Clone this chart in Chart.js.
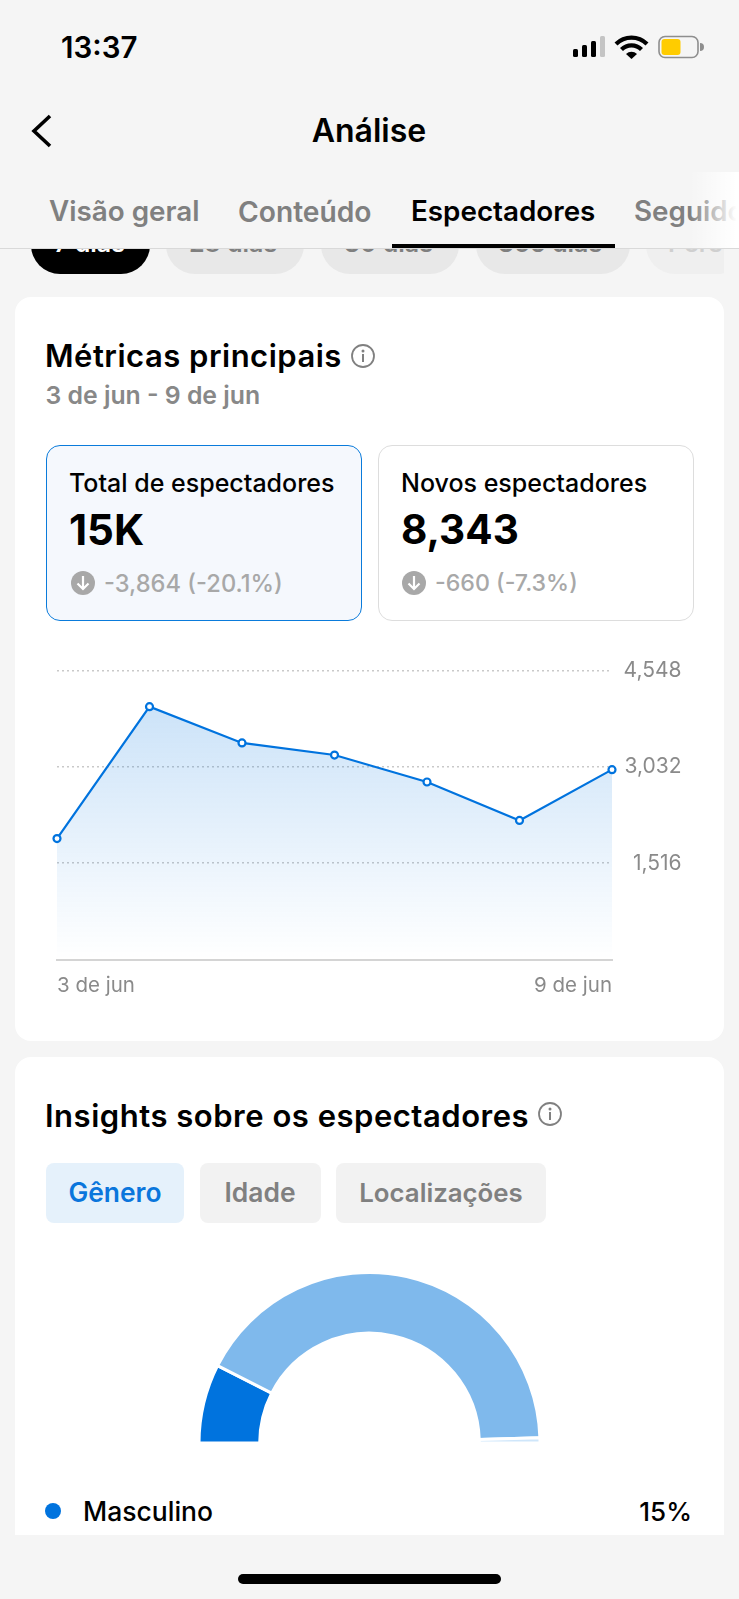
<!DOCTYPE html>
<html lang="pt">
<head>
<meta charset="utf-8">
<title>Análise</title>
<script src="https://cdn.jsdelivr.net/npm/chart.js@4"></script>
<style>
    html, body { margin: 0; padding: 0; background: #f5f5f5; }
    body { position: relative; width: 739px; height: 1599px; overflow: hidden; font-family: Inter, sans-serif; }
    .t { position: absolute; white-space: nowrap; line-height: 1; }
    .box { position: absolute; box-sizing: border-box; }
    .pill { position: absolute; top: 216px; height: 58px; border-radius: 29px; background: #e8e8e8; }
    .info { position: absolute; }
    canvas { display: block; }
</style>
</head>
<body>
    <!-- range pills sit behind the header -->
    <div class="pill" style="left:31px;width:119px;background:#000"></div>
    <div class="pill" style="left:166px;width:138px"></div>
    <div class="pill" style="left:321px;width:138px"></div>
    <div class="pill" style="left:476px;width:154px"></div>
    <div class="pill" style="left:646px;width:100px;background:#efefef;clip-path:inset(0 22px 0 0)"></div>
    <div class="t" style="left:54px;top:calc(253px - .864em);font-size:25px;font-weight:600;color:#fff">7 dias</div>
    <div class="t" style="left:189px;top:calc(253px - .864em);font-size:25px;font-weight:600;color:#7f7f7f">28 dias</div>
    <div class="t" style="left:344px;top:calc(253px - .864em);font-size:25px;font-weight:600;color:#7f7f7f">30 dias</div>
    <div class="t" style="left:498px;top:calc(253px - .864em);font-size:25px;font-weight:600;color:#7f7f7f">365 dias</div>
    <div class="t" style="left:668px;top:calc(253px - .864em);font-size:25px;font-weight:600;color:#cfcfcf">Pers</div>

    <!-- header -->
    <div class="box" style="left:0;top:0;width:739px;height:248px;background:#f5f5f5;border-bottom:1px solid #d9d9d9;box-sizing:content-box"></div>
    <div class="t" style="left:61px;top:calc(58px - .864em);font-size:29.5px;font-weight:600;color:#000">13:37</div>
    <svg class="info" style="left:570px;top:30px" width="135" height="32" viewBox="0 0 135 32">
        <rect x="3" y="19" width="5" height="8" rx="1.5" fill="#000"/>
        <rect x="12" y="15" width="5" height="12" rx="1.5" fill="#000"/>
        <rect x="21" y="11" width="5" height="16" rx="1.5" fill="#000"/>
        <rect x="30" y="6" width="5" height="21" rx="1.5" fill="#c4c4c4"/>
        <path d="M46 14 a22 22 0 0 1 31 0" fill="none" stroke="#000" stroke-width="4.2"/>
        <path d="M51.5 19.5 a14 14 0 0 1 20 0" fill="none" stroke="#000" stroke-width="4.2"/>
        <path d="M56 24 L61.5 29 L67 24 a8 8 0 0 0 -11 0 Z" fill="#000"/>
        <rect x="89" y="6.5" width="39" height="21" rx="6" fill="none" stroke="#8e8e8e" stroke-width="1.6"/>
        <rect x="91.5" y="9" width="19" height="16" rx="3" fill="#ffcc00"/>
        <path d="M130 13 a4 4 0 0 1 0 8 Z" fill="#8e8e8e"/>
    </svg>
    <svg class="info" style="left:28px;top:112px" width="28" height="38" viewBox="0 0 28 38">
        <path d="M22 4 L6 19 L22 34" fill="none" stroke="#000" stroke-width="3.6"/>
    </svg>
    <div class="t" style="left:369px;top:calc(143px - .864em);transform:translateX(-50%);font-size:32px;font-weight:600;color:#000">Análise</div>
    <div class="t" style="left:49px;top:calc(222.5px - .864em);font-size:27.8px;font-weight:600;color:#808080">Visão geral</div>
    <div class="t" style="left:238px;top:calc(222.5px - .864em);font-size:28.2px;font-weight:600;color:#808080">Conteúdo</div>
    <div class="t" style="left:411px;top:calc(222.5px - .864em);font-size:27.8px;font-weight:600;color:#000">Espectadores</div>
    <div class="t" style="left:634px;top:calc(222.5px - .864em);font-size:27.8px;font-weight:600;color:#808080">Seguidores</div>
    <div class="box" style="left:392px;top:244px;width:223px;height:4px;background:#000"></div>
    <div class="box" style="left:690px;top:172px;width:49px;height:76px;background:linear-gradient(90deg,rgba(255,255,255,0),#fff 95%)"></div>

    <!-- card 1 -->
    <div class="box" style="left:15px;top:297px;width:709px;height:744px;background:#fff;border-radius:16px"></div>
    <div class="t" style="left:45px;top:calc(366.5px - .864em);font-size:31px;font-weight:600;letter-spacing:.5px;color:#000">Métricas principais</div>
    <svg class="info" style="left:350px;top:343px" width="26" height="26" viewBox="0 0 26 26">
        <circle cx="13" cy="13" r="11" fill="none" stroke="#808080" stroke-width="1.8"/>
        <circle cx="13" cy="8" r="1.5" fill="#808080"/>
        <rect x="12" y="11" width="2" height="8" fill="#808080"/>
    </svg>
    <div class="t" style="left:45.5px;top:calc(404px - .864em);font-size:24.8px;font-weight:600;color:#888">3 de jun - 9 de jun</div>

    <div class="box" style="left:46px;top:445px;width:316px;height:176px;background:#f5f8fd;border:1.5px solid #0a7bdb;border-radius:14px"></div>
    <div class="t" style="left:69px;top:calc(493px - .864em);font-size:25px;font-weight:500;color:#000">Total de espectadores</div>
    <div class="t" style="left:69px;top:calc(545px - .864em);font-size:42px;font-weight:700;color:#000">15K</div>
    <svg class="info" style="left:71px;top:571px" width="24" height="24" viewBox="0 0 24 24">
        <circle cx="12" cy="12" r="12" fill="#a8a8a8"/>
        <path d="M12 5 V18 M6.5 12.5 L12 18 L17.5 12.5" fill="none" stroke="#fff" stroke-width="2.2"/>
    </svg>
    <div class="t" style="left:104px;top:calc(592px - .864em);font-size:23.7px;font-weight:500;color:#a8a8a8">-3,864 (-20.1%)</div>

    <div class="box" style="left:377.5px;top:445px;width:316px;height:176px;background:#fff;border:1.5px solid #dddddd;border-radius:14px"></div>
    <div class="t" style="left:401px;top:calc(493px - .864em);font-size:25px;font-weight:500;color:#000">Novos espectadores</div>
    <div class="t" style="left:401px;top:calc(545px - .864em);font-size:40.5px;font-weight:700;color:#000">8,343</div>
    <svg class="info" style="left:402px;top:571px" width="24" height="24" viewBox="0 0 24 24">
        <circle cx="12" cy="12" r="12" fill="#a8a8a8"/>
        <path d="M12 5 V18 M6.5 12.5 L12 18 L17.5 12.5" fill="none" stroke="#fff" stroke-width="2.2"/>
    </svg>
    <div class="t" style="left:435px;top:calc(592px - .864em);font-size:23.2px;font-weight:500;color:#a8a8a8">-660 (-7.3%)</div>

    <div class="box" style="left:15px;top:640px;width:709px;height:380px"><canvas id="lineChart"></canvas></div>

    <!-- card 2 is cut off by the bottom bar -->
    <div class="box" style="left:15px;top:1057px;width:709px;height:478px;background:#fff;border-radius:16px 16px 0 0"></div>
    <div class="t" style="left:45px;top:calc(1127px - .864em);font-size:31px;font-weight:600;letter-spacing:.52px;color:#000">Insights sobre os espectadores</div>
    <svg class="info" style="left:537px;top:1101px" width="26" height="26" viewBox="0 0 26 26">
        <circle cx="13" cy="13" r="11" fill="none" stroke="#808080" stroke-width="1.8"/>
        <circle cx="13" cy="8" r="1.5" fill="#808080"/>
        <rect x="12" y="11" width="2" height="8" fill="#808080"/>
    </svg>
    <div class="box" style="left:46px;top:1163px;width:138px;height:60px;background:#e5f1fb;border-radius:8px"></div>
    <div class="box" style="left:200px;top:1163px;width:121px;height:60px;background:#f2f2f2;border-radius:8px"></div>
    <div class="box" style="left:336px;top:1163px;width:210px;height:60px;background:#f2f2f2;border-radius:8px"></div>
    <div class="t" style="left:115px;top:calc(1202px - .864em);transform:translateX(-50%);font-size:26.4px;font-weight:600;color:#0a76dc">Gênero</div>
    <div class="t" style="left:260px;top:calc(1202px - .864em);transform:translateX(-50%);font-size:26.4px;font-weight:600;color:#808080">Idade</div>
    <div class="t" style="left:441px;top:calc(1202px - .864em);transform:translateX(-50%);font-size:25.8px;font-weight:600;color:#808080">Localizações</div>

    <div class="box" style="left:195.5px;top:1270.5px;width:347px;height:173.5px"><canvas id="genderChart"></canvas></div>

    <div class="box" id="legendDot" style="left:45px;top:1503px;width:16px;height:16px;border-radius:50%"></div>
    <div class="t" id="legendName" style="left:83px;top:calc(1521px - .864em);font-size:26.5px;font-weight:500;color:#000"></div>
    <div class="t" id="legendShare" style="right:47px;top:calc(1521px - .864em);font-size:26px;font-weight:500;color:#000"></div>

    <div class="box" style="left:238px;top:1574px;width:263px;height:10px;border-radius:5px;background:#000"></div>

<script>
    const days = ['3 de jun', '4 de jun', '5 de jun', '6 de jun', '7 de jun', '8 de jun', '9 de jun'];
    const viewers = [1905, 3982, 3410, 3220, 2795, 2190, 2990];
    const yTicks = [0, 1516, 3032, 4548];

    const genders = ['Masculino', 'Feminino', 'Outros'];
    const genderShare = [15, 84, 1];
    const genderColors = ['#0073de', '#7fb9ec', '#cfe6fa'];

    const blue = '#0073de';
    const grey = '#8a8a8a';

    new Chart(document.getElementById('lineChart'), {
        type: 'line',
        data: {
            labels: days,
            datasets: [{
                data: viewers,
                borderColor: blue,
                borderWidth: 2.2,
                tension: 0,
                clip: false,
                fill: 'origin',
                pointRadius: 3.5,
                pointBorderWidth: 2.2,
                pointBorderColor: blue,
                pointBackgroundColor: '#fff',
                backgroundColor: function(context) {
                    const area = context.chart.chartArea;
                    if (!area) return 'rgba(0,115,222,0.2)';
                    const g = context.chart.ctx.createLinearGradient(0, area.top + 35, 0, area.bottom);
                    g.addColorStop(0, 'rgba(0,115,222,0.2)');
                    g.addColorStop(1, 'rgba(0,115,222,0)');
                    return g;
                }
            }]
        },
        options: {
            responsive: true,
            maintainAspectRatio: false,
            animation: false,
            layout: { padding: { left: 42, right: 42.5, top: 30.7, bottom: 0 } },
            plugins: { legend: { display: false }, tooltip: { enabled: false } },
            scales: {
                x: {
                    grid: { display: false },
                    border: { color: '#d4d4d4', width: 2 },
                    afterFit: function(scale) { scale.height = 60.5; },
                    ticks: {
                        align: 'inner',
                        autoSkip: false,
                        maxRotation: 0,
                        padding: 6,
                        color: grey,
                        font: { family: 'Inter', size: 20.5 },
                        callback: function(value, index) {
                            return index === 0 || index === days.length - 1 ? days[index] : '';
                        }
                    }
                },
                y: {
                    position: 'right',
                    min: yTicks[0],
                    max: yTicks[yTicks.length - 1],
                    border: { display: false, dash: [2, 3] },
                    grid: {
                        drawTicks: false,
                        lineWidth: 1.5,
                        color: function(context) {
                            return context.tick.value === 0 ? 'rgba(0,0,0,0)' : '#c9c9c9';
                        }
                    },
                    afterBuildTicks: function(scale) {
                        scale.ticks = yTicks.map(function(v) { return { value: v }; });
                    },
                    afterFit: function(scale) { scale.width = 69.5; },
                    ticks: {
                        crossAlign: 'far',
                        color: grey,
                        font: { family: 'Inter', size: 21 },
                        callback: function(value) {
                            return value === 0 ? '' : value.toLocaleString('en-US');
                        }
                    }
                }
            }
        }
    });

    new Chart(document.getElementById('genderChart'), {
        type: 'doughnut',
        data: {
            labels: genders,
            datasets: [{
                data: genderShare,
                backgroundColor: genderColors,
                borderColor: '#fff',
                borderWidth: 3
            }]
        },
        options: {
            responsive: true,
            maintainAspectRatio: false,
            animation: false,
            rotation: -90,
            circumference: 180,
            cutout: '64.4%',
            plugins: { legend: { display: false }, tooltip: { enabled: false } }
        }
    });

    document.getElementById('legendDot').style.background = genderColors[0];
    document.getElementById('legendName').textContent = genders[0];
    document.getElementById('legendShare').textContent = genderShare[0] + '%';
</script>
</body>
</html>
